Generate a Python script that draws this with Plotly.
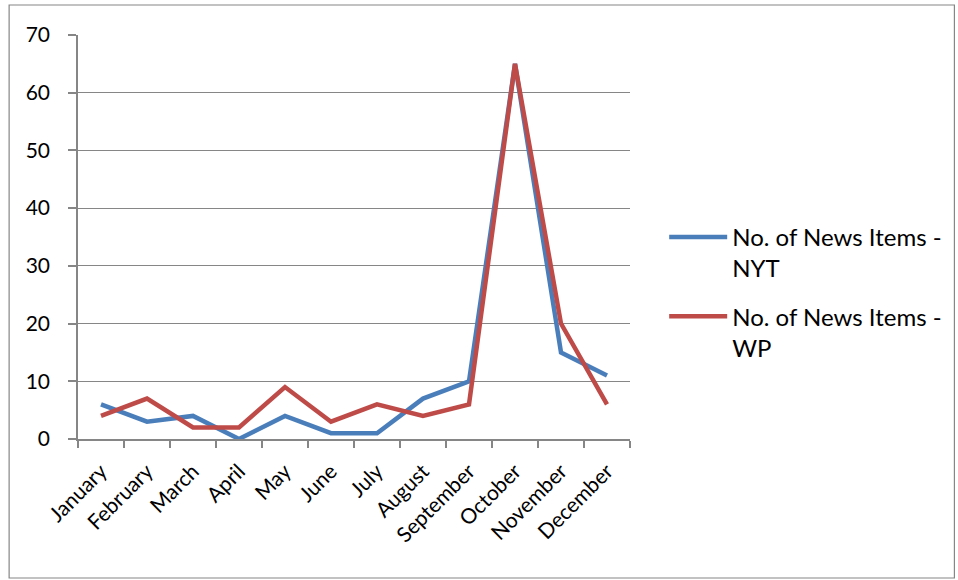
import plotly.graph_objects as go

months = ["January", "February", "March", "April", "May", "June", "July",
          "August", "September", "October", "November", "December"]
nyt = [6, 3, 4, 0, 4, 1, 1, 7, 10, 65, 15, 11]
wp = [4, 7, 2, 2, 9, 3, 6, 4, 6, 65, 20, 6]
series_names = ["No. of News Items -<br>NYT", "No. of News Items -<br>WP"]

W, H = 958, 580
L, R, T, B = 78, 327, 35, 141
pw, ph = W - L - R, H - T - B

fig = go.Figure()
fig.add_trace(go.Scatter(x=months, y=nyt, mode="lines", name=series_names[0],
                         legendgroup="a",
                         line=dict(color="#4A7EBB", width=4.5)))
fig.add_trace(go.Scatter(x=months, y=wp, mode="lines", name=series_names[1],
                         legendgroup="b",
                         line=dict(color="#BE4B48", width=4.5)))

font = "Lato, Liberation Sans, Arial, sans-serif"
gray = "#868686"
fig.update_layout(
    width=W, height=H,
    margin=dict(l=L, r=R, t=T, b=B),
    paper_bgcolor="white", plot_bgcolor="white",
    font=dict(family=font, size=20, color="black"),
    showlegend=True,
    legend=dict(x=1.06, y=0.555, xanchor="left", yanchor="top",
                font=dict(size=24), tracegroupgap=14, itemwidth=58,
                valign="top"),
    xaxis=dict(type="category", tickson="boundaries", ticks="outside",
               ticklen=7, tickcolor=gray, tickwidth=1.5, showline=True,
               linecolor=gray, linewidth=1.5, showgrid=False,
               tickangle=-45, tickfont=dict(size=21), ticklabelstandoff=10,
               range=[-0.5, 11.5]),
    yaxis=dict(range=[0, 70], dtick=10, ticks="outside", ticklen=8,
               tickcolor=gray, tickwidth=1.5, showline=True, linecolor=gray,
               linewidth=1.5, showgrid=True, gridcolor=gray,
               gridwidth=1.3, tickfont=dict(size=21), zeroline=False,
               ticklabelstandoff=14),
)

# outer chart border
fig.add_shape(type="rect", xref="paper", yref="paper",
              x0=(9 - L) / pw, x1=(956 - L) / pw,
              y0=(H - B - 578) / ph, y1=(H - B - 5) / ph,
              line=dict(color=gray, width=1.2))

fig.write_html("out.html", config={"displayModeBar": False},
               post_script="document.body.style.margin='0';document.body.style.overflow='hidden';")
